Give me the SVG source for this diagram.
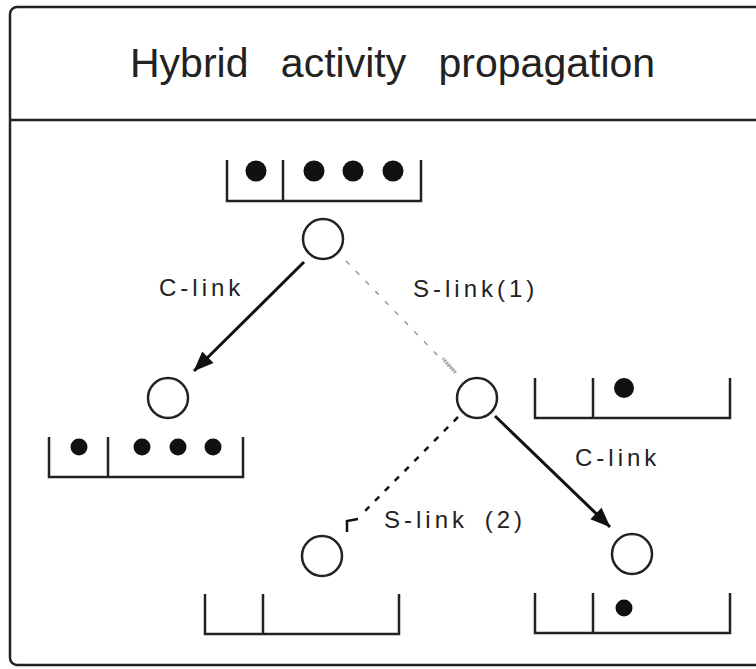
<svg xmlns="http://www.w3.org/2000/svg" width="756" height="669" viewBox="0 0 756 669">
<style>
.frame{fill:none;stroke:#222;stroke-width:2.5}
.reg{fill:none;stroke:#222;stroke-width:2.5;stroke-linejoin:miter}
.node{fill:#fff;stroke:#222;stroke-width:2.5}
.dot{fill:#111}
.title{font-family:"Liberation Sans",Arial,sans-serif;font-size:41px;fill:#222;word-spacing:21px}
.lbl{font-family:"Liberation Sans",Arial,sans-serif;font-size:24px;fill:#222;letter-spacing:4px}
.clink{stroke:#111;stroke-width:3;fill:none}
.s1{stroke:#999;stroke-width:1.5;fill:none;stroke-dasharray:5 9}
.s2{stroke:#111;stroke-width:2.5;fill:none;stroke-dasharray:6 8}
</style>
<defs>
<marker id="ah" markerWidth="8" markerHeight="6" refX="7.5" refY="3" orient="auto" markerUnits="userSpaceOnUse" viewBox="0 0 8 6" style="overflow:visible">
<path d="M-12,-5 L8,3 L-12,11 Z" fill="#111"/>
</marker>
</defs>
<rect width="756" height="669" fill="#fff"/>
<g id="frame">
<rect class="frame" x="10" y="7" width="770" height="658" rx="7"/>
<line class="frame" x1="10" y1="120" x2="756" y2="120"/>
<text class="title" x="130" y="77">Hybrid activity propagation</text>
</g>
<g id="connectors">
<line class="clink" x1="304" y1="262" x2="194" y2="371" marker-end="url(#ah)"/>
<line class="clink" x1="495" y1="416" x2="610" y2="527" marker-end="url(#ah)"/>
<line class="s1" x1="346" y1="261" x2="444" y2="362"/>
<path d="M443,358 L456,373 L448,365 Z" fill="#aaa" stroke="#aaa" stroke-width="3" stroke-dasharray="1.5 1.5"/>
<line class="s2" x1="458" y1="417" x2="364" y2="512"/>
<path d="M347,532 L347,521 L358,519" fill="none" stroke="#111" stroke-width="2.5"/>
<text class="lbl" x="159" y="296">C-link</text>
<text class="lbl" x="413" y="297">S-link(1)</text>
<text class="lbl" x="575" y="466">C-link</text>
<text class="lbl" x="384" y="528" style="word-spacing:6px">S-link (2)</text>
</g>
<g id="n-top">
<path class="reg" d="M227,160 V201 H421 V160 M283,160 V201"/>
<circle class="dot" cx="256" cy="171" r="10.5"/>
<circle class="dot" cx="314" cy="171" r="10.5"/>
<circle class="dot" cx="353" cy="171" r="10.5"/>
<circle class="dot" cx="393" cy="171" r="10.5"/>
<circle class="node" cx="323" cy="239" r="20"/>
</g>
<g id="n-left">
<circle class="node" cx="168" cy="398" r="20"/>
<path class="reg" d="M49,437 V477 H243 V437 M108,437 V477"/>
<circle class="dot" cx="79" cy="447" r="8.5"/>
<circle class="dot" cx="142" cy="447" r="8.5"/>
<circle class="dot" cx="178" cy="447" r="8.5"/>
<circle class="dot" cx="213" cy="447" r="8.5"/>
</g>
<g id="n-mid">
<circle class="node" cx="477" cy="398" r="20"/>
<path class="reg" d="M535,378 V418 H730 V378 M593,378 V418"/>
<circle class="dot" cx="624" cy="388" r="10"/>
</g>
<g id="n-botleft">
<circle class="node" cx="322" cy="556" r="20"/>
<path class="reg" d="M205,594 V634 H399 V594 M263,594 V634"/>
</g>
<g id="n-botright">
<circle class="node" cx="632" cy="554" r="20"/>
<path class="reg" d="M535,593 V633 H730 V593 M593,593 V633"/>
<circle class="dot" cx="624" cy="608" r="8.5"/>
</g>
</svg>
